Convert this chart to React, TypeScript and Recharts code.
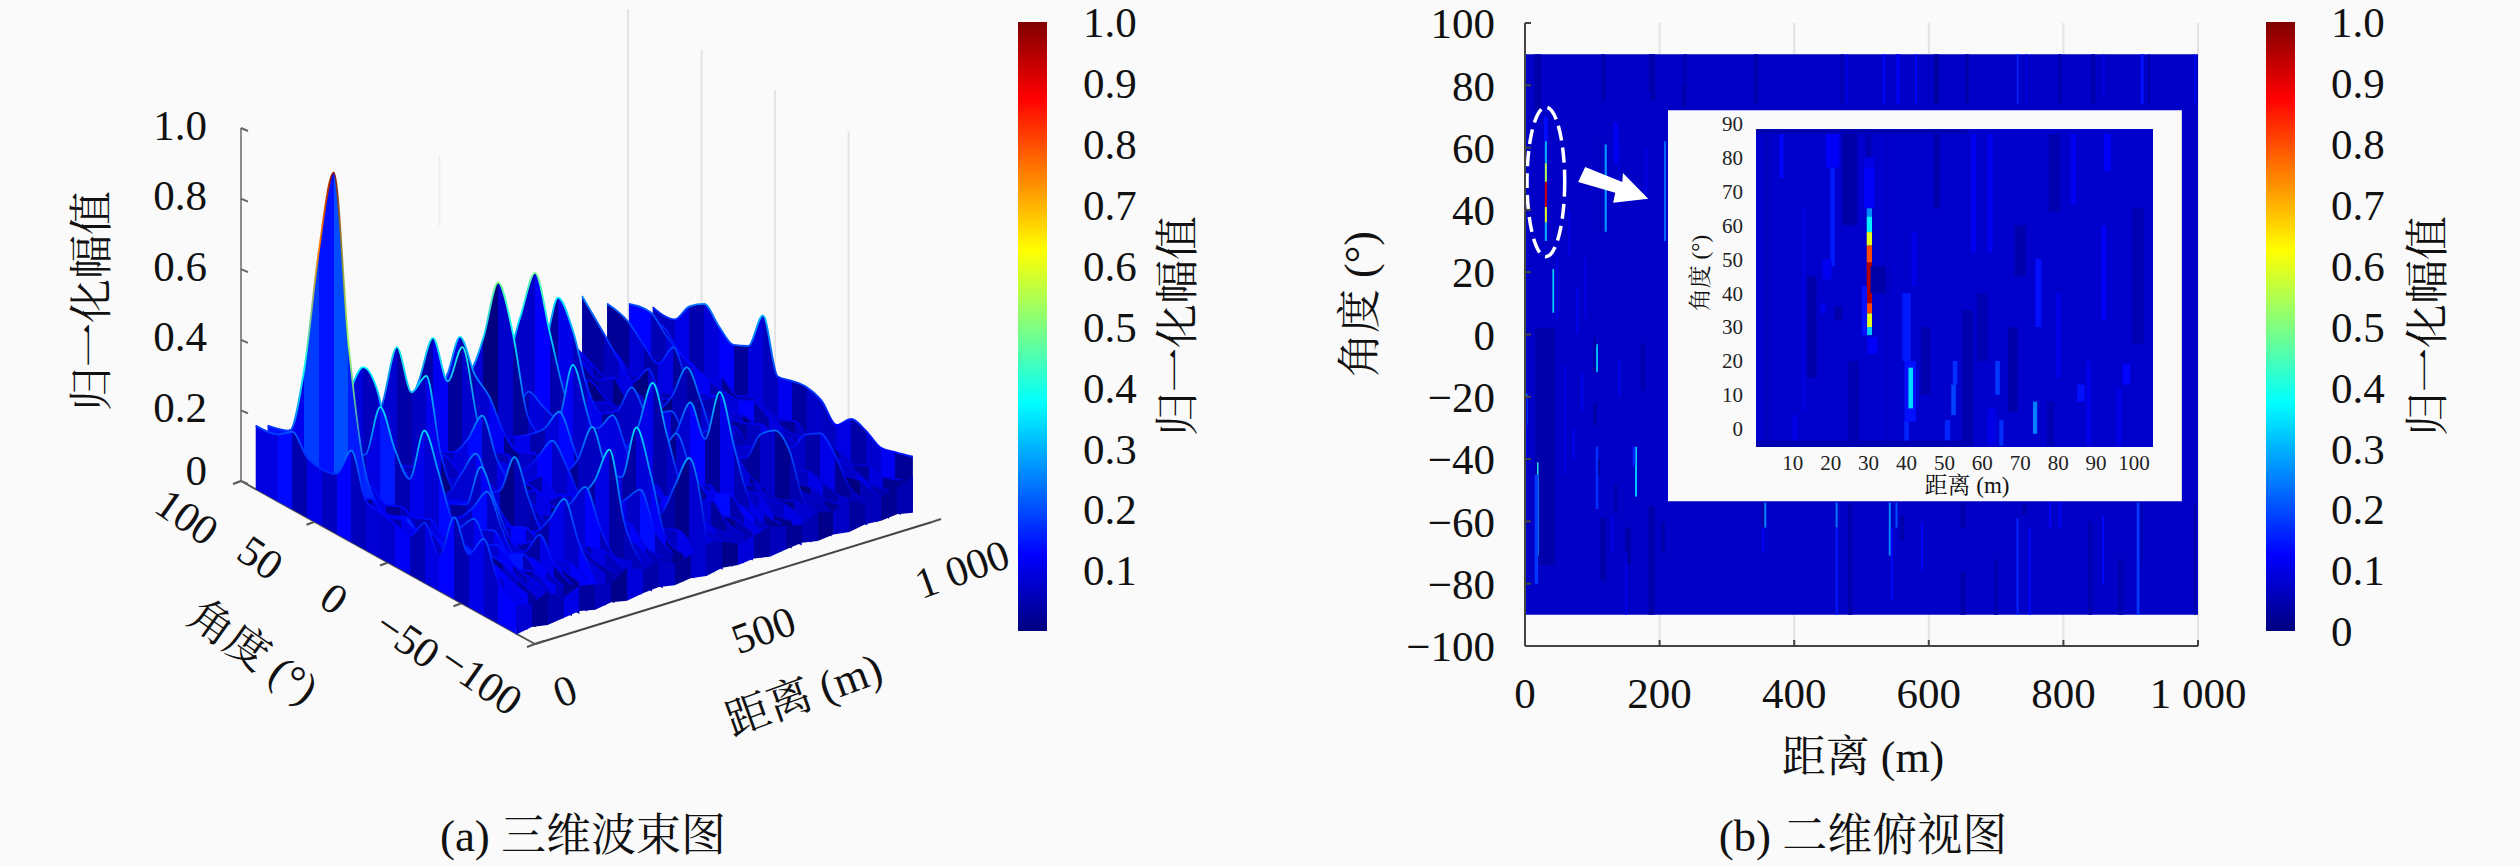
import React from "react";
import {
  ComposedChart, Area, Bar, XAxis, YAxis, CartesianGrid, ReferenceArea, ReferenceLine,
} from "recharts";

const PAGE = "#fafafa";
const SERIF = '"Liberation Serif","Noto Serif CJK SC","Noto Sans CJK SC",serif';

// ---------- DATA ----------
const colorbarLeftTicks = [0.1, 0.2, 0.3, 0.4, 0.5, 0.6, 0.7, 0.8, 0.9, 1.0];
const colorbarRightTicks = [0, 0.1, 0.2, 0.3, 0.4, 0.5, 0.6, 0.7, 0.8, 0.9, 1.0];
const zTicks = [0, 0.2, 0.4, 0.6, 0.8, 1.0];
const angleTicks3d = [100, 50, 0, -50, -100];
const rangeTicks3d = [0, 500, 1000];
const wallAngles = [100, 50, 0, -50];
const heatXTicks = [0, 200, 400, 600, 800, 1000];
const heatYTicks = [-100, -80, -60, -40, -20, 0, 20, 40, 60, 80, 100];
const insetXTicks = [10, 20, 30, 40, 50, 60, 70, 80, 90, 100];
const insetYTicks = [0, 10, 20, 30, 40, 50, 60, 70, 80, 90];

// Surface: one profile per range, sampled at these angles; painted far to near.
const surfaceAngles = [90, 75, 65, 55, 45, 35, 25, 15, 5, -5, -15, -25, -35, -45, -55, -65, -75, -87];
const surfaceRanges = [1000, 970, 940, 912, 885, 855, 822, 795, 771, 745, 720, 695, 669, 645, 620, 597, 574, 547, 521, 500, 481, 450, 422, 395, 370, 343, 317, 293, 270, 248, 226, 203, 180, 160, 141, 120, 100, 85, 73, 50, 30, 15, 0];
const surfaceTones = [0.06, 0.05, 0.08, 0.03, 0.05, 0.07, 0.04, 0.06, 0.02, 0.03, 0.07, 0.05, 0.06, 0.1, 0.09, 0.04, 0.05, 0.09, 0.08, 0.05, 0.01, 0.07, 0.05, 0.09, 0.09, 0.05, 0.04, 0.08, 0.08, 0.04, 0.03, 0.08, 0.09, 0.06, 0.05, 0.09, 0.1, 0.06, 0.08, 0.05, 0.13, 0.06, 0.08];
const surfaceAmps = [
  [.17,.17,.23,.26,.22,.19,.21,.32,.17,.18,.185,.17,.125,.165,.155,.13,.14,.155],
  [.15,.16,.12,.1,.09,.11,.08,.1,.09,.08,.1,.07,.09,.08,.07,.09,.08,.1],
  [.2,.21,.17,.14,.12,.11,.1,.1,.12,.1,.09,.09,.1,.08,.09,.08,.07,.08],
  [.17,.13,.1,.09,.11,.08,.1,.07,.09,.08,.07,.1,.08,.09,.07,.08,.09,.07],
  [.22,.2,.16,.13,.2,.12,.1,.13,.09,.1,.12,.09,.1,.16,.187,.15,.08,.07],
  [.15,.12,.09,.1,.08,.1,.07,.09,.08,.1,.07,.09,.08,.07,.09,.08,.07,.08],
  [.263,.19,.14,.1,.16,.1,.12,.09,.11,.13,.08,.1,.09,.08,.07,.08,.07,.08],
  [.14,.11,.09,.08,.1,.07,.09,.1,.08,.09,.1,.07,.08,.09,.07,.08,.08,.07],
  [.14,.12,.1,.13,.09,.1,.11,.17,.275,.2,.1,.09,.11,.2,.235,.2,.08,.07],
  [.1,.08,.11,.09,.08,.1,.09,.07,.1,.08,.15,.18,.13,.09,.08,.07,.09,.08],
  [.1,.09,.12,.08,.1,.09,.11,.08,.09,.1,.12,.08,.09,.07,.1,.08,.09,.08],
  [.09,.1,.08,.11,.07,.1,.08,.14,.17,.2,.14,.07,.1,.08,.09,.1,.07,.08],
  [.14,.2,.369,.3,.16,.11,.14,.23,.17,.1,.17,.28,.2,.356,.22,.1,.08,.08],
  [.1,.12,.09,.1,.11,.08,.1,.09,.08,.1,.12,.09,.08,.1,.07,.09,.08,.07],
  [.1,.1,.13,.11,.09,.12,.1,.11,.09,.12,.1,.09,.12,.1,.11,.13,.09,.08],
  [.11,.09,.12,.1,.08,.11,.09,.12,.1,.08,.1,.16,.24,.16,.12,.08,.09,.08],
  [.15,.2,.347,.495,.35,.2,.12,.14,.11,.13,.22,.368,.24,.12,.1,.13,.09,.08],
  [.1,.12,.11,.09,.12,.1,.09,.16,.18,.24,.16,.1,.11,.08,.1,.09,.08,.09],
  [.12,.13,.15,.12,.2,.18,.17,.345,.23,.12,.1,.13,.15,.11,.13,.1,.09,.08],
  [.11,.1,.12,.13,.1,.09,.12,.1,.11,.09,.12,.1,.08,.11,.09,.1,.1,.08],
  [.16,.2,.32,.5,.38,.17,.13,.11,.14,.12,.15,.12,.11,.14,.1,.2,.303,.1],
  [.11,.13,.1,.12,.09,.12,.15,.19,.26,.18,.1,.11,.09,.12,.1,.09,.11,.08],
  [.13,.2,.343,.26,.22,.14,.11,.13,.1,.12,.18,.296,.2,.2,.364,.25,.1,.08],
  [.1,.11,.12,.09,.12,.1,.11,.09,.15,.22,.17,.1,.09,.12,.17,.22,.13,.09],
  [.1,.12,.11,.1,.13,.12,.1,.11,.09,.13,.1,.12,.1,.11,.12,.13,.09,.09],
  [.12,.1,.13,.11,.1,.12,.09,.12,.1,.11,.09,.13,.11,.09,.12,.1,.11,.08],
  [.12,.15,.25,.4,.3,.42,.24,.1,.14,.1,.13,.11,.12,.18,.25,.36,.18,.09],
  [.1,.12,.1,.13,.11,.13,.19,.28,.18,.13,.1,.09,.12,.17,.24,.15,.09,.1],
  [.09,.11,.1,.12,.1,.13,.11,.1,.12,.1,.11,.13,.1,.12,.09,.1,.11,.09],
  [.11,.09,.13,.1,.12,.1,.09,.12,.1,.11,.13,.1,.11,.09,.12,.11,.09,.09],
  [.11,.13,.22,.405,.3,.37,.17,.09,.11,.13,.16,.278,.18,.11,.13,.14,.1,.09],
  [.12,.1,.11,.13,.1,.12,.11,.09,.17,.25,.17,.11,.1,.12,.18,.26,.16,.08],
  [.1,.11,.1,.12,.13,.1,.12,.11,.1,.12,.13,.1,.12,.14,.12,.1,.11,.09],
  [.12,.1,.13,.11,.1,.14,.1,.12,.11,.13,.1,.12,.11,.1,.13,.11,.1,.09],
  [.12,.14,.275,.378,.33,.15,.1,.12,.11,.13,.15,.28,.2,.12,.11,.18,.12,.09],
  [.13,.11,.12,.13,.1,.13,.12,.1,.13,.11,.12,.17,.24,.16,.1,.12,.11,.09],
  [.11,.12,.13,.1,.14,.12,.15,.11,.12,.1,.13,.12,.14,.16,.12,.14,.11,.1],
  [.14,.12,.11,.13,.12,.1,.13,.12,.11,.14,.1,.13,.12,.11,.13,.1,.12,.09],
  [.13,.12,.13,.15,.17,.2,.357,.26,.2,.36,.26,.14,.12,.13,.15,.12,.11,.1],
  [.15,.13,.12,.11,.13,.12,.14,.11,.13,.12,.14,.11,.16,.21,.14,.13,.11,.09],
  [.17,.19,.39,.75,.99,.53,.22,.12,.11,.13,.1,.12,.11,.14,.12,.13,.11,.1],
  [.16,.14,.13,.12,.14,.13,.12,.14,.11,.13,.12,.14,.11,.13,.12,.11,.12,.09],
  [.18,.19,.22,.17,.16,.17,.26,.14,.13,.12,.11,.17,.1,.232,.15,.217,.12,.09],
];
// Colour-only facet offsets applied across the surface
const surfaceFacets = [0, 0.05, -0.03, 0.02, 0.07, -0.05, 0.03, -0.02, 0.06, -0.04, 0.01];

// Front lip of the surface, along the nearest angle
const lipAngle = -87;
const lipRanges = [0, 40, 80, 120, 160, 200, 240, 280, 320, 360, 400, 440, 480, 520, 560, 600, 640, 680, 720, 760, 800, 840, 880, 920, 960, 1000];
const lipAmps = [.08, .07, .09, .06, .08, .07, .06, .09, .07, .08, .06, .07, .09, .08, .06, .07, .08, .07, .06, .08, .07, .09, .06, .07, .08, .1];
const lipFloors = [0, .008, 0, .006, .012, .002, .009, 0, .007, .011, .002, .008, .001, .01, .004, .009, 0, .007, .012, .003, .008, .001, .009, .005, .01, 0];
const lipTones = [.08, .02, .05, .1, .03, .06, .01, .09, .04, .07, .02, .08, .05, .01, .09, .03, .06, .02, .05, .01, .07, .03, .06, .02, .05, .03];

// Heat map: [range, angle low, angle high, amplitude, column width]
const mainStreaks: number[][] = [
  [30,-74,2,.045,30],[19,72,90,.04,10],[116,75,90,.045,6],[188,78,90,.045,8],[238,74,90,.05,5],
  [116,-79,-59,.04,9],[153,-74,-62,.04,9],[188,-90,-55,.04,9],[175,-18,-3,.045,6],[104,-29,-22,.04,6],
  [60,-45,-10,.1,3],[72,-40,-30,.11,3],[85,-25,-12,.11,3],[140,-20,-8,.11,3],[150,-90,-70,.1,3],
  [130,-70,-58,.1,3],[205,-70,-60,.04,6],[90,5,25,.1,3],[78,0,15,.11,3],[66,25,40,.1,3],[140,40,62,.09,3],
  [180,45,60,.1,3],[135,55,68,.11,8],[31,62,70,.14,5],[31,55,62,.3,3],[31,30,36,.3,3],
  [31,49,55,.55,3],[31,36,41,.6,3],[31,41,49,.92,3],
  [120,33,61,.28,3],[112,33,62,.04,2],[42,7,21,.33,2.5],[48,5,25,.1,2.5],[208,30,62,.24,2.5],
  [19,-71,-41,.4,2],[17,-80,-45,.18,5],[2,-29,-19,.26,3],[107,-12,-3,.3,3],[103,-12,-3,.03,3],[104,-4,-1,.04,4],
  [165,-52,-36,.35,2.5],[162,-42,-36,.16,4],[107,-56,-36,.17,4],[110,-45,-40,.04,3],[135,-57,-48,.04,4],
  [357,-62,-54,.25,3],[353,-62,-54,.03,3],[354,-70,-62,.12,3],[463,-62,-54,.24,3],[463,-90,-62,.15,3],[483,-90,-54,.045,7],
  [542,-71,-54,.26,3],[552,-62,-54,.2,3],[545,-85,-62,.13,3],[560,-66,-58,.04,6],[590,-76,-60,.12,3],[651,-62,-54,.045,8],[651,-90,-76,.045,8],
  [732,-90,-59,.16,3],[750,-90,-62,.13,3],[742,-58,-54,.04,6],[780,-62,-54,.12,3],[840,-90,-60,.045,6],[859,-80,-58,.13,3],[795,-62,-54,.11,4],
  [911,-90,-54,.18,4],[917,-74,-54,.05,3],[995,-90,-54,.04,3],[885,-90,-72,.05,8],[700,-90,-72,.05,6],
  [190,75,90,.045,7],[236,73,80,.045,6],[343,74,90,.045,6],[471,74,90,.045,5],[478,74,90,.11,2],[533,74,90,.13,3],[554,74,90,.11,6],[581,74,90,.12,3],
  [611,74,90,.03,7],[657,74,90,.04,5],[732,74,90,.16,2.5],[745,74,90,.1,2],[795,74,90,.045,5],[844,74,90,.045,6],[860,76,90,.11,2],[917,74,90,.14,4],[927,74,90,.04,3],[995,74,90,.13,2],
  [2,-40,-20,.12,2],[208,-54,30,.09,1.5],
];

const insetStreaks: number[][] = [
  [7,74,87,.13,1],[12.9,5,65,.09,1.2],[10.5,-4,4,.1,1.2],[20.5,77,88,.12,3.5],[20.5,48,77,.15,1.2],[19,44,50,.11,2.4],[18,34,37,.11,1.2],[22,32,36,.04,2],
  [48,65,87,.04,1.5],[57.7,52,87,.11,1.4],[62,52,87,.11,1.4],[84,66,87,.11,1.4],[93,76,87,.12,1.8],[79,64,87,.045,3],[70,45,60,.045,3],[25,60,87,.04,4],[30,70,87,.05,1.5],
  [30.2,77,80,.1,2.6],[30.2,65,77,.12,2.8],[30.2,62.6,65,.26,1.4],[30.2,58,62.6,.36,1.4],[30.2,54,58,.6,1.4],[30.2,49,54,.8,1.4],[30.2,37,49,.95,1.4],[30.2,34,37,.8,1.4],[30.2,30,34,.6,1.4],[30.2,27.6,30,.32,1.4],
  [28.9,27.6,42,.14,1.4],[31,22,27,.12,2.6],[33,40,48,.04,5],
  [40,20,40,.15,2.2],[40,-4,2.5,.16,1.2],[41,2,20,.14,3],[41.1,6,18,.34,1.2],[42,42,58,.1,1.4],
  [52.8,13,20,.17,1.2],[52.4,4,13,.19,1.2],[50.8,-3.5,2.5,.16,1.4],[64,10,20,.18,1.2],[65,-5,2.5,.17,1.1],[62.5,-5,6,.1,2.4],
  [73.9,-1.5,8,.25,1.1],[74.8,30,50,.14,1.6],[86,8,13,.14,2],[92,32,60,.12,1.2],[98,13,19,.13,2],[88,-5,20,.1,1.4],[96,-5,12,.1,1.4],
  [56,-5,35,.045,3],[68,5,30,.04,2.5],[80,15,40,.1,1.4],[101,25,65,.05,3],[15,15,45,.04,2.5],[26,-5,20,.05,3],[45,10,30,.045,2.5],[60,20,40,.05,3],
  [3,-5,88.4,.06,1.5],[78,-5,8,.05,2],[35,-5,88.4,.07,1],[1,87,88.4,.05,110],[1,-5.4,-3.5,.05,110],
];

// ---------- COLOUR ----------
const clamp = (v: number) => Math.max(0, Math.min(1, v));
const jet = (v: number) => {
  const c = (k: number) => Math.round(255 * clamp(1.5 - Math.abs(4 * v - k)));
  return `rgb(${c(3)},${c(2)},${c(1)})`;
};
const jetStops: React.ReactNode[] = [];
for (let i = 0; i <= 64; i++) jetStops.push(<stop key={i} offset={`${(i * 100) / 64}%`} stopColor={jet(1 - i / 64)} />);

// ---------- 3-D PROJECTION ----------
const project = (range: number, angle: number, amp: number) => ({
  x: 241 + 0.397 * range + 1.47 * (100 - angle),
  y: 481 - 0.122 * range + 0.815 * (100 - angle) - 353 * amp,
});

const slices = surfaceRanges.map((range, s) => ({
  range,
  tone: surfaceTones[s],
  amps: surfaceAmps[s],
  rows: surfaceAngles.map((angle, i) => ({
    px: project(range, angle, 0).x,
    band: [project(range, angle, 0).y, project(range, angle, surfaceAmps[s][i]).y],
    top: project(range, angle, surfaceAmps[s][i]).y,
  })),
}));
const lipRows = lipRanges.map((range, i) => ({
  px: project(range, lipAngle, 0).x,
  band: [project(range, lipAngle, lipFloors[i] - 0.004).y, project(range, lipAngle, lipAmps[i]).y],
}));

const Txt = ({ x, y, rot = 0, size = 43, anchor = "middle", children }: any) => (
  <text x={x} y={y} fontSize={size} textAnchor={anchor} dominantBaseline="central" fontFamily={SERIF} fill="#111"
    transform={rot ? `rotate(${rot} ${x} ${y})` : undefined}>
    {children}
  </text>
);

const fmt1000 = (v: number) => (v === 1000 ? "1 000" : String(v));
const fmtMinus = (v: number) => String(v).replace("-", "−");
const box = (left: number, top: number): React.CSSProperties => ({ position: "absolute", left, top });

const PixelAxes = ({ w, h }: { w: number; h: number }) => (
  <>
    <XAxis type="number" dataKey="px" hide domain={[0, w]} allowDataOverflow />
    <YAxis type="number" hide reversed domain={[0, h]} allowDataOverflow />
  </>
);

const seg = (a: { x: number; y: number }, b: { x: number; y: number }, stroke: string, w: number, key: string) => (
  <ReferenceLine key={key} segment={[a, b]} stroke={stroke} strokeWidth={w} ifOverflow="visible" />
);

const Panel3DFrame = () => {
  const A = project(0, 100, 0);
  const B = project(0, -100, 0);
  const C = project(1000, -100, 0);
  return (
    <ComposedChart width={1010} height={866} margin={{ top: 0, right: 0, bottom: 0, left: 0 }} style={box(0, 0)} data={[{ px: 0 }]}>
      {PixelAxes({ w: 1010, h: 866 })}
      {wallAngles.map((a) => seg(project(975, a, 0), project(975, a, 1), "#e3e3e3", 2, `w${a}`))}
      {seg(project(500, 100, 0.55), project(500, 100, 0.75), "#eeeeee", 2, "wl")}
      {seg(A, project(0, 100, 1), "#8c8c8c", 2, "z")}
      {seg(A, B, "#555", 2, "ab")}
      {seg(B, C, "#444", 2, "bc")}
      {zTicks.map((z) => seg(project(0, 100, z), { x: project(0, 100, z).x + 7, y: project(0, 100, z).y + 3 }, "#666", 2, `zt${z}`))}
      {angleTicks3d.map((a) => seg(project(0, a, 0), { x: project(0, a, 0).x - 8, y: project(0, a, 0).y + 3 }, "#555", 2, `at${a}`))}
      {rangeTicks3d.map((r) => seg(project(r, -100, 0), { x: project(r, -100, 0).x + 9, y: project(r, -100, 0).y - 3 }, "#555", 2, `rt${r}`))}
      {zTicks.map((z) => (
        <Txt key={z} x={207} y={project(0, 100, z).y - (z === 0 ? 11 : 3)} anchor="end">{z === 0 ? "0" : z.toFixed(1)}</Txt>
      ))}
      {angleTicks3d.map((a) => (
        <Txt key={a} x={project(0, a, 0).x - 54} y={project(0, a, 0).y + 36} rot={35}>{fmtMinus(a)}</Txt>
      ))}
      {rangeTicks3d.map((r) => (
        <Txt key={r} x={project(r, -100, 0).x + 30} y={project(r, -100, 0).y + 47} rot={-20}>{fmt1000(r)}</Txt>
      ))}
      <Txt x={92} y={301} rot={-90} size={44}>归一化幅值</Txt>
      <Txt x={253} y={652} rot={35} size={44}>角度 (°)</Txt>
      <Txt x={804} y={695} rot={-20} size={44}>距离 (m)</Txt>
      <Txt x={583} y={836} size={45}>(a) 三维波束图</Txt>
    </ComposedChart>
  );
};

// Hard-edged facets across one profile
const facetStops = (s: number, tone: number, amps: number[]) => {
  const span = surfaceAngles[0] - surfaceAngles[surfaceAngles.length - 1];
  const out: React.ReactNode[] = [];
  surfaceAngles.slice(0, -1).forEach((a, i) => {
    const colour = jet(Math.max(0, 0.8 * tone + 0.09 * amps[i] + 0.75 * surfaceFacets[(i + s * 4) % surfaceFacets.length]));
    out.push(<stop key={`${a}s`} offset={`${((surfaceAngles[0] - a) * 100) / span}%`} stopColor={colour} />);
    out.push(<stop key={`${a}e`} offset={`${((surfaceAngles[0] - surfaceAngles[i + 1]) * 100) / span}%`} stopColor={colour} />);
  });
  return out;
};

const Surface3D = () => {
  const span = surfaceAngles[0] - surfaceAngles[surfaceAngles.length - 1];
  return (
    <ComposedChart width={1010} height={866} margin={{ top: 0, right: 0, bottom: 0, left: 0 }} style={box(0, 0)}>
      <defs>
        {slices.map((s, k) => (
          <React.Fragment key={s.range}>
            <linearGradient id={`body${s.range}`} x1="0" y1="0" x2="1" y2="0">{facetStops(k, s.tone, s.amps)}</linearGradient>
            <linearGradient id={`edge${s.range}`} x1="0" y1="0" x2="1" y2="0">
              {surfaceAngles.map((a, i) => (
                <stop key={a} offset={`${((surfaceAngles[0] - a) * 100) / span}%`} stopColor={jet(s.amps[i])} />
              ))}
            </linearGradient>
          </React.Fragment>
        ))}
        <linearGradient id="lip" x1="0" y1="0" x2="1" y2="0">
          {lipRanges.slice(0, -1).map((r, i) => (
            <React.Fragment key={r}>
              <stop offset={`${r / 10}%`} stopColor={jet(lipTones[i])} />
              <stop offset={`${lipRanges[i + 1] / 10}%`} stopColor={jet(lipTones[i])} />
            </React.Fragment>
          ))}
        </linearGradient>
      </defs>
      {PixelAxes({ w: 1010, h: 866 })}
      {slices.map((s) => (
        <React.Fragment key={s.range}>
          <Area data={s.rows} dataKey="band" type="monotone" fill={`url(#body${s.range})`} fillOpacity={1} stroke="none" dot={false} activeDot={false} isAnimationActive={false} />
          <Area data={s.rows} dataKey="top" type="monotone" fill="none" stroke={`url(#edge${s.range})`} strokeWidth={1.8} dot={false} activeDot={false} isAnimationActive={false} />
        </React.Fragment>
      ))}
      <Area data={lipRows} dataKey="band" type="linear" fill="url(#lip)" fillOpacity={1} stroke="none" dot={false} activeDot={false} isAnimationActive={false} />
    </ComposedChart>
  );
};

const ColorBar = ({ left, ticks, labelX, id }: { left: number; ticks: number[]; labelX: number; id: string }) => (
  <ComposedChart width={260} height={660} margin={{ top: 22, right: 0, bottom: 29, left: 0 }} style={box(left, 0)}
    data={[{ name: "c", range: [0, 1] }]} barCategoryGap={0} barGap={0}>
    <defs>
      <linearGradient id={id} x1="0" y1="0" x2="0" y2="1">{jetStops}</linearGradient>
    </defs>
    <XAxis dataKey="name" hide />
    <YAxis orientation="right" width={231} domain={[0, 1]} ticks={ticks} axisLine={false} tickLine={false} tickMargin={30} interval={0}
      tickFormatter={(v: number) => (v === 0 ? "0" : v.toFixed(1))}
      tick={{ fontSize: 43, fontFamily: SERIF, fill: "#111" }} />
    <Bar dataKey="range" fill={`url(#${id})`} isAnimationActive={false} />
    <Txt x={labelX} y={326} rot={-90} size={44}>归一化幅值</Txt>
  </ComposedChart>
);

const EllipseShape = (p: any) => (
  <ellipse cx={p.x + p.width / 2} cy={p.y + p.height / 2} rx={p.width / 2} ry={p.height / 2} fill="none" stroke="#ffffff" strokeWidth={3.5} strokeDasharray="15 7" />
);
const arrowOutline = [[.1, 0], [0, .42], [.53, .72], [.5, 1], [1, .89], [.64, .17], [.63, .42]];
const ArrowShape = (p: any) => (
  <polygon fill="#ffffff" points={arrowOutline.map(([fx, fy]) => `${p.x + fx * p.width},${p.y + fy * p.height}`).join(" ")} />
);

const streakAreas = (list: number[][], xMin: number, xMax: number) =>
  list.map(([r, lo, hi, v, w], i) => (
    <ReferenceArea key={i} x1={Math.max(xMin, r - w / 2)} x2={Math.min(xMax, r + w / 2)} y1={lo} y2={hi} fill={jet(v)} fillOpacity={1} stroke="none" ifOverflow="hidden" />
  ));

const Heatmap = () => {
  const withWidth = mainStreaks.map((s) => (s.length > 4 ? s : [...s, 3]));
  return (
    <ComposedChart width={1040} height={866} margin={{ top: 23, right: 102, bottom: 0, left: 0 }} style={box(1260, 0)} data={[{ r: 0 }]}>
      <CartesianGrid horizontal={false} stroke="#e4e4e4" strokeWidth={2} />
      <XAxis type="number" dataKey="r" height={220} domain={[0, 1000]} allowDataOverflow ticks={heatXTicks} tickFormatter={fmt1000} interval={0}
        tickSize={-6} tickMargin={37} stroke="#444" strokeWidth={2}
        tick={{ fontSize: 43, fontFamily: SERIF, fill: "#111" }} />
      <YAxis type="number" width={265} domain={[-100, 100]} allowDataOverflow ticks={heatYTicks} tickFormatter={fmtMinus} interval={0}
        tickSize={-6} tickMargin={36} stroke="#444" strokeWidth={2}
        tick={{ fontSize: 43, fontFamily: SERIF, fill: "#111" }} />
      <ReferenceArea x1={0} x2={1000} y1={-90} y2={90} fill={jet(0.07)} fillOpacity={1} stroke="none" />
      {streakAreas(withWidth, 0, 1000)}
      <ReferenceArea x1={3} x2={59} y1={25} y2={73} shape={EllipseShape} />
      <ReferenceArea x1={79} x2={183} y1={42.3} y2={53.8} shape={ArrowShape} />
      <ReferenceArea x1={212.5} x2={976} y1={-53.5} y2={72} fill={PAGE} fillOpacity={1} stroke="none" />
      <Txt x={100} y={304} rot={-90} size={44}>角度 (°)</Txt>
      <Txt x={603} y={757} size={44}>距离 (m)</Txt>
      <Txt x={603} y={836} size={45}>(b) 二维俯视图</Txt>
    </ComposedChart>
  );
};

const Inset = () => (
  <ComposedChart width={514} height={392} margin={{ top: 19, right: 29, bottom: 0, left: 0 }} style={box(1668, 110)} data={[{ r: 10 }]}>
    <XAxis type="number" dataKey="r" height={55} domain={[0.3, 105]} allowDataOverflow ticks={insetXTicks} interval={0} axisLine={false} tickLine={false} tickMargin={2}
      tick={{ fontSize: 21, fontFamily: SERIF, fill: "#222" }} />
    <YAxis type="number" width={88} domain={[-5.4, 88.4]} allowDataOverflow ticks={insetYTicks} interval={0} axisLine={false} tickLine={false} tickMargin={7}
      tick={{ fontSize: 21, fontFamily: SERIF, fill: "#222" }} />
    <ReferenceArea x1={0.3} x2={105} y1={-5.4} y2={88.4} fill={jet(0.075)} fillOpacity={1} stroke="none" />
    {streakAreas(insetStreaks, 0.3, 105)}
    <Txt x={299} y={375} size={23}>距离 (m)</Txt>
    <Txt x={32} y={163} rot={-90} size={23}>角度 (°)</Txt>
  </ComposedChart>
);

export default function App() {
  return (
    <div style={{ position: "absolute", left: 0, top: 0, width: 2520, height: 866, background: PAGE, overflow: "hidden" }}>
      <Panel3DFrame />
      <Surface3D />
      <ColorBar left={1018} ticks={colorbarLeftTicks} labelX={160} id="jetA" />
      <Heatmap />
      <Inset />
      <ColorBar left={2266} ticks={colorbarRightTicks} labelX={162} id="jetB" />
    </div>
  );
}
